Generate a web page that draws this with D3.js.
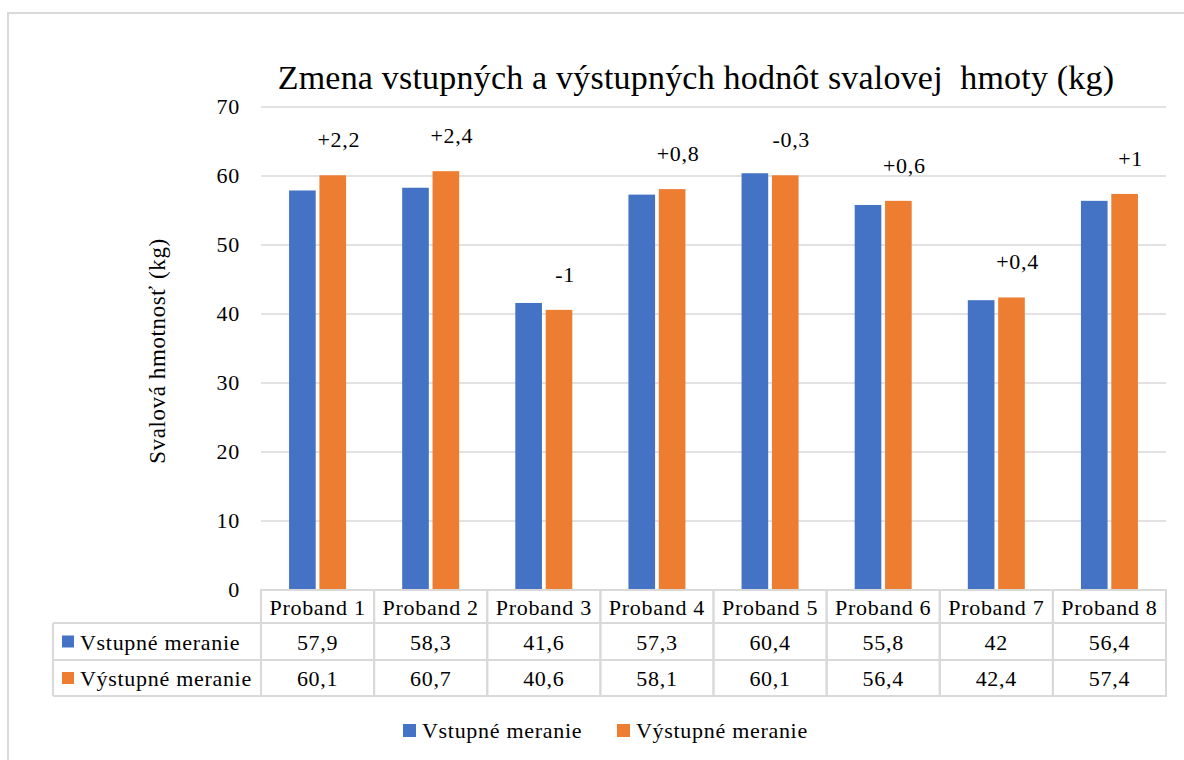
<!DOCTYPE html>
<html>
<head>
<meta charset="utf-8">
<script src="https://cdn.jsdelivr.net/npm/d3@7"></script>
<style>
  body { margin: 0; background: #fff; }
</style>
</head>
<body>
<svg width="1184" height="760"></svg>
<script>
const categories = ["Proband 1", "Proband 2", "Proband 3", "Proband 4", "Proband 5", "Proband 6", "Proband 7", "Proband 8"];
const seriesNames = ["Vstupné meranie", "Výstupné meranie"];
const vstupne = [57.9, 58.3, 41.6, 57.3, 60.4, 55.8, 42, 56.4];
const vystupne = [60.1, 60.7, 40.6, 58.1, 60.1, 56.4, 42.4, 57.4];
const changes = ["+2,2", "+2,4", "-1", "+0,8", "-0,3", "+0,6", "+0,4", "+1"];
const yTicks = [0, 10, 20, 30, 40, 50, 60, 70];
const colors = ["#4472C4", "#ED7D31"];

const series = [vstupne, vystupne];
const fmt = v => String(v).replace(".", ",");

const svg = d3.select("svg")
  .attr("font-family", "'Liberation Serif', 'Times New Roman', 'DejaVu Serif', serif")
  .attr("letter-spacing", 0.7);
const plotL = 261, plotR = 1166, plotT = 107, plotB = 590;
const grid = "#d9d9d9";
const fs = 22;

// outer chart frame
svg.append("rect")
  .attr("x", 8).attr("y", 13)
  .attr("width", 1200).attr("height", 800)
  .attr("fill", "none").attr("stroke", grid).attr("stroke-width", 2);

svg.append("text")
  .attr("x", 696).attr("y", 89)
  .attr("text-anchor", "middle")
  .attr("font-size", 34)
  .attr("letter-spacing", 0.2)
  .style("white-space", "pre")
  .text("Zmena vstupných a výstupných hodnôt svalovej  hmoty (kg)");

const x = d3.scaleBand().domain(categories).range([plotL, plotR]);
const y = d3.scaleLinear().domain([0, 70]).range([plotB, plotT]);

// gridlines
svg.append("g").selectAll("line")
  .data(yTicks.slice(1))
  .join("line")
  .attr("x1", plotL).attr("x2", plotR)
  .attr("y1", d => y(d)).attr("y2", d => y(d))
  .attr("stroke", grid).attr("stroke-width", 1.5);

// y tick labels
svg.append("g").selectAll("text")
  .data(yTicks)
  .join("text")
  .attr("x", 240)
  .attr("y", d => y(d) + 7)
  .attr("text-anchor", "end")
  .attr("font-size", fs)
  .text(d => d);

svg.append("text")
  .attr("transform", "translate(165,351) rotate(-90)")
  .attr("text-anchor", "middle")
  .attr("font-size", 23)
  .attr("letter-spacing", 0.6)
  .text("Svalová hmotnosť (kg)");

// bars
const barW = 25, gap = 7;
const xs = d3.scaleBand().domain([0, 1]).range([-(barW + gap / 2), barW + gap / 2]).paddingInner(gap / (2 * barW + gap));
series.forEach((vals, s) => {
  svg.append("g").selectAll("rect")
    .data(vals)
    .join("rect")
    .attr("x", (d, i) => x(categories[i]) + x.bandwidth() / 2 + xs(s))
    .attr("width", xs.bandwidth())
    .attr("y", d => y(d))
    .attr("height", d => y(0) - y(d))
    .attr("fill", colors[s]);
});

// change labels above the output bars
svg.append("g").selectAll("text")
  .data(changes)
  .join("text")
  .attr("x", (d, i) => x(categories[i]) + x.bandwidth() / 2 + xs(1) + xs.bandwidth() / 2 + 6)
  .attr("y", (d, i) => y(vystupne[i]) - 28)
  .attr("text-anchor", "middle")
  .attr("font-size", fs)
  .text(d => d);

// data table
const rowTop = [590, 623, 660, 696];
const tableLeft = 53;
const tg = svg.append("g");
tg.selectAll("rect.head")
  .data(categories)
  .join("rect")
  .attr("x", d => x(d)).attr("y", rowTop[0])
  .attr("width", x.bandwidth()).attr("height", rowTop[3] - rowTop[0])
  .attr("fill", "none").attr("stroke", grid).attr("stroke-width", 2);
[1, 2, 3].forEach(r => {
  tg.append("line")
    .attr("x1", tableLeft).attr("x2", plotR)
    .attr("y1", rowTop[r]).attr("y2", rowTop[r])
    .attr("stroke", grid).attr("stroke-width", 2);
});
tg.append("line").attr("x1", tableLeft).attr("x2", tableLeft)
  .attr("y1", rowTop[1]).attr("y2", rowTop[3])
  .attr("stroke", grid).attr("stroke-width", 2);

tg.selectAll("text.head")
  .data(categories)
  .join("text")
  .attr("x", d => x(d) + x.bandwidth() / 2)
  .attr("y", rowTop[0] + 25)
  .attr("text-anchor", "middle")
  .attr("font-size", fs)
  .text(d => d);

series.forEach((vals, s) => {
  const ry = (rowTop[s + 1] + rowTop[s + 2]) / 2;
  tg.append("rect")
    .attr("x", 62).attr("y", ry - 6)
    .attr("width", 12).attr("height", 12)
    .attr("fill", colors[s]);
  tg.append("text")
    .attr("x", 80).attr("y", ry + 8)
    .attr("font-size", fs)
    .text(seriesNames[s]);
  tg.append("g").selectAll("text")
    .data(vals)
    .join("text")
    .attr("x", (d, i) => x(categories[i]) + x.bandwidth() / 2)
    .attr("y", ry + 8)
    .attr("text-anchor", "middle")
    .attr("font-size", fs)
    .text(d => fmt(d));
});

// legend
const legendX = [403, 617];
seriesNames.forEach((name, s) => {
  svg.append("rect")
    .attr("x", legendX[s]).attr("y", 724)
    .attr("width", 13).attr("height", 13)
    .attr("fill", colors[s]);
  svg.append("text")
    .attr("x", legendX[s] + 19).attr("y", 738)
    .attr("font-size", fs)
    .text(name);
});
</script>
</body>
</html>
